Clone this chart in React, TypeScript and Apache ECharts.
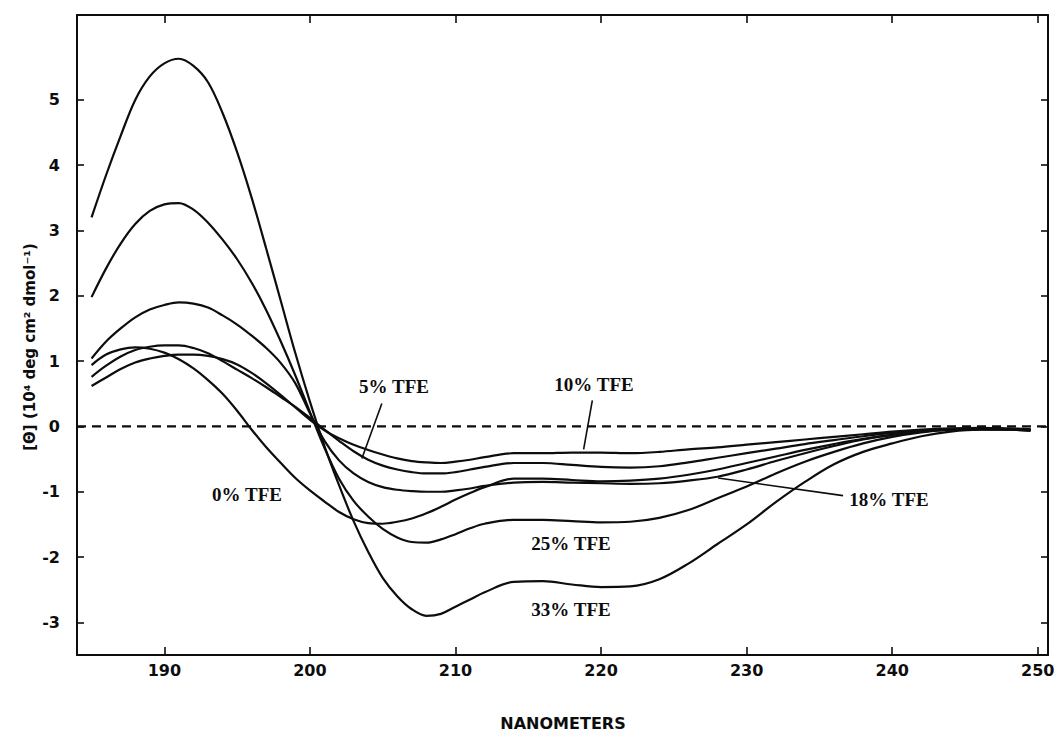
import React, { useEffect, useRef } from "react";
import * as echarts from "echarts";

// Wavelength grid (nm)
const NM = [185, 186, 187, 188, 189, 190, 191, 192, 193, 194, 195, 196, 197, 198, 199, 200, 201, 202, 203, 204, 205, 206, 207, 208, 209, 210, 211, 212, 214, 216, 218, 220, 222, 224, 226, 228, 230, 232, 234, 236, 238, 240, 242, 244, 246, 248, 249.5];

// Mean residue ellipticity (10^4 deg cm2 dmol-1)
const TFE33 = [3.2, 3.85, 4.45, 5.0, 5.36, 5.56, 5.63, 5.52, 5.27, 4.8, 4.2, 3.5, 2.72, 1.92, 1.12, 0.38, -0.3, -0.9, -1.45, -1.92, -2.32, -2.6, -2.8, -2.9, -2.87, -2.76, -2.65, -2.54, -2.38, -2.37, -2.42, -2.46, -2.45, -2.34, -2.1, -1.8, -1.5, -1.16, -0.85, -0.58, -0.39, -0.26, -0.15, -0.08, -0.05, -0.05, -0.07];
const TFE25 = [1.98, 2.42, 2.8, 3.1, 3.3, 3.4, 3.42, 3.32, 3.12, 2.86, 2.56, 2.2, 1.78, 1.3, 0.78, 0.22, -0.33, -0.8, -1.14, -1.38, -1.57, -1.7, -1.77, -1.78, -1.73, -1.65, -1.56, -1.49, -1.43, -1.43, -1.45, -1.47, -1.46, -1.4, -1.28, -1.1, -0.92, -0.72, -0.54, -0.39, -0.26, -0.16, -0.09, -0.05, -0.04, -0.05, -0.06];
const TFE18 = [1.04, 1.3, 1.5, 1.67, 1.79, 1.86, 1.9, 1.88, 1.82, 1.7, 1.56, 1.39, 1.2, 0.97, 0.66, 0.2, -0.22, -0.52, -0.72, -0.85, -0.93, -0.97, -0.99, -1.0, -1.0, -0.98, -0.95, -0.91, -0.86, -0.85, -0.86, -0.87, -0.88, -0.87, -0.83, -0.77, -0.66, -0.53, -0.41, -0.3, -0.2, -0.13, -0.08, -0.05, -0.04, -0.04, -0.05];
const TFE0 = [0.94, 1.1, 1.18, 1.21, 1.19, 1.13, 1.03, 0.89, 0.71, 0.5, 0.24, -0.05, -0.32, -0.56, -0.79, -0.98, -1.15, -1.31, -1.42, -1.48, -1.49, -1.46, -1.41, -1.33, -1.23, -1.12, -1.02, -0.93, -0.8, -0.8, -0.82, -0.84, -0.83, -0.8, -0.74, -0.66, -0.56, -0.46, -0.36, -0.27, -0.19, -0.13, -0.08, -0.05, -0.04, -0.04, -0.05];
const TFE5 = [0.76, 0.93, 1.07, 1.17, 1.22, 1.24, 1.24, 1.2, 1.12, 1.0, 0.87, 0.74, 0.6, 0.45, 0.3, 0.13, -0.05, -0.22, -0.38, -0.51, -0.6, -0.66, -0.7, -0.72, -0.72, -0.7, -0.66, -0.62, -0.56, -0.56, -0.59, -0.62, -0.63, -0.61, -0.55, -0.48, -0.41, -0.34, -0.27, -0.21, -0.15, -0.1, -0.06, -0.04, -0.03, -0.04, -0.05];
const TFE10 = [0.62, 0.75, 0.88, 0.98, 1.04, 1.08, 1.1, 1.1, 1.08, 1.03, 0.95, 0.82, 0.66, 0.48, 0.29, 0.1, -0.06, -0.18, -0.28, -0.36, -0.43, -0.49, -0.53, -0.55, -0.56, -0.54, -0.51, -0.47, -0.41, -0.41, -0.4, -0.4, -0.41, -0.39, -0.35, -0.32, -0.28, -0.24, -0.2, -0.16, -0.12, -0.08, -0.05, -0.03, -0.02, -0.03, -0.04];

// Leader lines for labels (data coords)
const PTR5 = [[204.94, 0.35], [203.57, -0.49]];
const PTR10 = [[219.4, 0.4], [218.8, -0.35]];
const PTR18 = [[228.04, -0.79], [236.62, -1.06]];

const X_TICKS = [190, 200, 210, 220, 230, 240, 250];
const Y_TICKS = [-3, -2, -1, 0, 1, 2, 3, 4, 5];

const SERIES = [
  { name: "33% TFE", values: TFE33 },
  { name: "25% TFE", values: TFE25 },
  { name: "18% TFE", values: TFE18 },
  { name: "0% TFE", values: TFE0 },
  { name: "5% TFE", values: TFE5 },
  { name: "10% TFE", values: TFE10 },
];

const INK = "#0d0d0d";

export default function App() {
  const ref = useRef<HTMLDivElement>(null);
  useEffect(() => {
    if (!ref.current) return;
    const chart = echarts.init(ref.current, undefined, { renderer: "svg" });
    const sansFont = "DejaVu Sans";
    const serifFont = "Liberation Serif";
    const axisCommon = {
      type: "value" as const,
      axisLine: { show: true, onZero: false, lineStyle: { color: INK, width: 2 } },
      splitLine: { show: false },
    };
    const curveSeries = SERIES.map((s) => ({
      name: s.name,
      type: "line",
      smooth: 0.35,
      symbol: "none",
      data: NM.map((x, i) => [x, s.values[i]]),
      lineStyle: { color: INK, width: 2.2 },
      z: 3,
    }));
    const ptrSeries = [PTR5, PTR10, PTR18].map((p) => ({
      type: "line",
      symbol: "none",
      data: p,
      lineStyle: { color: INK, width: 1.6 },
      z: 4,
    }));
    const labelText = (text: string, x: number, y: number) => ({
      type: "text",
      x,
      y,
      style: {
        text,
        fill: INK,
        font: `bold 19px "${serifFont}"`,
        textAlign: "center",
        textVerticalAlign: "middle",
      },
    });
    chart.setOption({
      animation: false,
      backgroundColor: "#ffffff",
      grid: { left: 77, right: 11, top: 15, bottom: 77, containLabel: false },
      xAxis: [
        {
          ...axisCommon,
          position: "bottom",
          min: 184,
          max: 250.7,
          axisTick: { show: true, inside: true, length: 8, customValues: X_TICKS, lineStyle: { color: INK, width: 1.6 } },
          axisLabel: {
            show: true,
            customValues: X_TICKS,
            margin: 7,
            color: INK,
            fontFamily: sansFont,
            fontWeight: "bold",
            fontSize: 16,
          },
        },
        {
          ...axisCommon,
          position: "top",
          min: 184,
          max: 250.7,
          axisTick: { show: true, inside: true, length: 8, customValues: X_TICKS, lineStyle: { color: INK, width: 1.6 } },
          axisLabel: { show: false },
        },
      ],
      yAxis: [
        {
          ...axisCommon,
          position: "left",
          min: -3.5,
          max: 6.3,
          axisTick: { show: true, inside: true, length: 7, customValues: Y_TICKS, lineStyle: { color: INK, width: 1.6 } },
          axisLabel: {
            show: true,
            customValues: Y_TICKS,
            margin: 17,
            color: INK,
            fontFamily: sansFont,
            fontWeight: "bold",
            fontSize: 16,
          },
        },
        {
          ...axisCommon,
          position: "right",
          min: -3.5,
          max: 6.3,
          axisTick: { show: true, inside: true, length: 7, customValues: Y_TICKS, lineStyle: { color: INK, width: 1.6 } },
          axisLabel: { show: false },
        },
      ],
      series: [
        {
          type: "line",
          symbol: "none",
          data: [[184, 0], [250.7, 0]],
          lineStyle: { color: INK, width: 2.3, type: [9, 6] },
          z: 2,
        },
        ...curveSeries,
        ...ptrSeries,
      ],
      graphic: [
        {
          type: "text",
          x: 30,
          y: 347,
          rotation: Math.PI / 2,
          style: {
            text: "[Θ] (10⁴ deg cm² dmol⁻¹)",
            fill: INK,
            font: `bold 15px "${sansFont}"`,
            textAlign: "center",
            textVerticalAlign: "middle",
          },
        },
        {
          type: "text",
          x: 563,
          y: 723,
          style: {
            text: "NANOMETERS",
            fill: INK,
            font: `bold 16px "${sansFont}"`,
            textAlign: "center",
            textVerticalAlign: "middle",
          },
        },
        labelText("5% TFE", 394, 386),
        labelText("10% TFE", 594, 384),
        labelText("0% TFE", 247, 494),
        labelText("18% TFE", 889, 499),
        labelText("25% TFE", 571, 543),
        labelText("33% TFE", 571, 609),
      ],
    });
    return () => chart.dispose();
  }, []);
  return (
    <div
      ref={ref}
      style={{ position: "fixed", left: 0, top: 0, width: 1059, height: 732, background: "#fff" }}
    />
  );
}
